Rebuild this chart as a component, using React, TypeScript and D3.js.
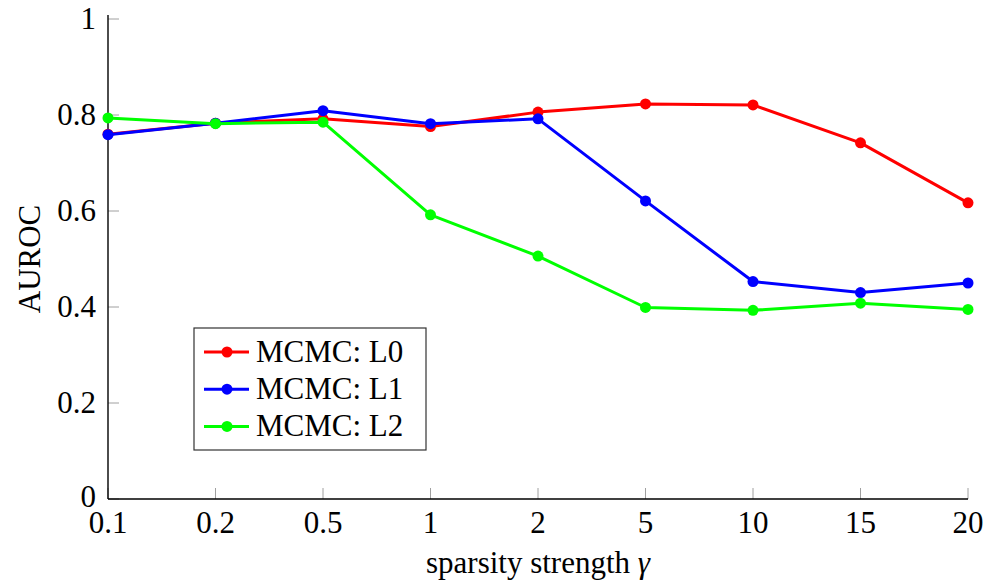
import React, { useEffect, useRef } from 'react';
import * as d3 from 'd3';

// gamma values on the x axis (equally spaced categories)
const gammas = ['0.1', '0.2', '0.5', '1', '2', '5', '10', '15', '20'];

// AUROC per sparsity strength
const l0Values = [0.76, 0.783, 0.792, 0.776, 0.806, 0.823, 0.821, 0.742, 0.617];
const l1Values = [0.759, 0.783, 0.809, 0.782, 0.792, 0.621, 0.453, 0.43, 0.45];
const l2Values = [0.794, 0.782, 0.785, 0.592, 0.506, 0.399, 0.393, 0.408, 0.395];

const seriesNames = ['MCMC: L0', 'MCMC: L1', 'MCMC: L2'];
const seriesColors = ['#ff0000', '#0000ff', '#00ff00'];

const yTicks = [0, 0.2, 0.4, 0.6, 0.8, 1];

const App = () => {
  const chartRef = useRef<SVGSVGElement>(null);

  useEffect(() => {
    const width = 986;
    const height = 582;
    const margin = { top: 19, right: 18, bottom: 83, left: 108 };
    const font = '"Liberation Serif", "Times New Roman", serif';
    const fontSize = 31;

    const svg = d3.select(chartRef.current);
    svg.selectAll('*').remove();

    const x = d3
      .scalePoint()
      .domain(gammas)
      .range([margin.left, width - margin.right]);

    const y = d3
      .scaleLinear()
      .domain([0, 1])
      .range([height - margin.bottom, margin.top]);

    const series = [l0Values, l1Values, l2Values].map((values, i) => ({
      name: seriesNames[i],
      color: seriesColors[i],
      points: gammas.map((g, j) => ({ g, v: values[j] })),
    }));

    // ticks (gray, pointing inward)
    const tickLen = 11;
    svg
      .append('g')
      .selectAll('line')
      .data(gammas)
      .enter()
      .append('line')
      .attr('x1', (d) => x(d)!)
      .attr('x2', (d) => x(d)!)
      .attr('y1', y(0))
      .attr('y2', y(0) - tickLen)
      .attr('stroke', '#a0a0a0')
      .attr('stroke-width', 1);

    svg
      .append('g')
      .selectAll('line')
      .data(yTicks)
      .enter()
      .append('line')
      .attr('x1', margin.left)
      .attr('x2', margin.left + tickLen)
      .attr('y1', (d) => y(d))
      .attr('y2', (d) => y(d))
      .attr('stroke', '#a0a0a0')
      .attr('stroke-width', 1);

    // axis lines
    svg
      .append('line')
      .attr('x1', margin.left)
      .attr('x2', margin.left)
      .attr('y1', y(0))
      .attr('y2', margin.top - 4)
      .attr('stroke', '#000')
      .attr('stroke-width', 1.4);

    svg
      .append('line')
      .attr('x1', margin.left)
      .attr('x2', width - margin.right)
      .attr('y1', y(0))
      .attr('y2', y(0))
      .attr('stroke', '#000')
      .attr('stroke-width', 1.4);

    // tick labels
    svg
      .append('g')
      .selectAll('text')
      .data(gammas)
      .enter()
      .append('text')
      .attr('x', (d) => x(d)!)
      .attr('y', 533)
      .attr('text-anchor', 'middle')
      .attr('font-family', font)
      .attr('font-size', fontSize)
      .text((d) => d);

    svg
      .append('g')
      .selectAll('text')
      .data(yTicks)
      .enter()
      .append('text')
      .attr('x', 96)
      .attr('y', (d) => y(d) + (d === 0 ? 8 : 10))
      .attr('text-anchor', 'end')
      .attr('font-family', font)
      .attr('font-size', fontSize)
      .text((d) => (d === 0 || d === 1 ? String(d) : d.toFixed(1)));

    // axis titles
    svg
      .append('text')
      .attr('transform', `translate(40,${y(0.5)}) rotate(-90)`)
      .attr('text-anchor', 'middle')
      .attr('font-family', font)
      .attr('font-size', fontSize)
      .text('AUROC');

    const xTitle = svg
      .append('text')
      .attr('x', (margin.left + width - margin.right) / 2)
      .attr('y', 573)
      .attr('text-anchor', 'middle')
      .attr('font-family', font)
      .attr('font-size', fontSize);
    xTitle.append('tspan').text('sparsity strength ');
    xTitle.append('tspan').attr('font-style', 'italic').text('γ');

    // lines and markers
    const line = d3
      .line<{ g: string; v: number }>()
      .x((d) => x(d.g)!)
      .y((d) => y(d.v));

    series.forEach((s) => {
      svg
        .append('path')
        .datum(s.points)
        .attr('d', line)
        .attr('fill', 'none')
        .attr('stroke', s.color)
        .attr('stroke-width', 3)
        .attr('stroke-linejoin', 'round');

      svg
        .append('g')
        .selectAll('circle')
        .data(s.points)
        .enter()
        .append('circle')
        .attr('cx', (d) => x(d.g)!)
        .attr('cy', (d) => y(d.v))
        .attr('r', 5.5)
        .attr('fill', s.color);
    });

    // legend
    const legend = svg.append('g').attr('transform', 'translate(194,328)');
    legend
      .append('rect')
      .attr('width', 232)
      .attr('height', 122)
      .attr('fill', '#fff')
      .attr('stroke', '#333')
      .attr('stroke-width', 1.2);

    series.forEach((s, i) => {
      const row = legend.append('g').attr('transform', `translate(0,${24 + i * 37.2})`);
      row
        .append('line')
        .attr('x1', 10)
        .attr('x2', 55)
        .attr('stroke', s.color)
        .attr('stroke-width', 3);
      row.append('circle').attr('cx', 33).attr('r', 5.5).attr('fill', s.color);
      row
        .append('text')
        .attr('x', 62)
        .attr('y', 10)
        .attr('font-family', font)
        .attr('font-size', fontSize)
        .text(s.name);
    });

    return () => {
      d3.select(chartRef.current).selectAll('*').remove();
    };
  }, []);

  return (
    <svg
      ref={chartRef}
      width={986}
      height={582}
      style={{ position: 'absolute', left: 0, top: 0, background: '#fff' }}
    />
  );
};

export default App;
